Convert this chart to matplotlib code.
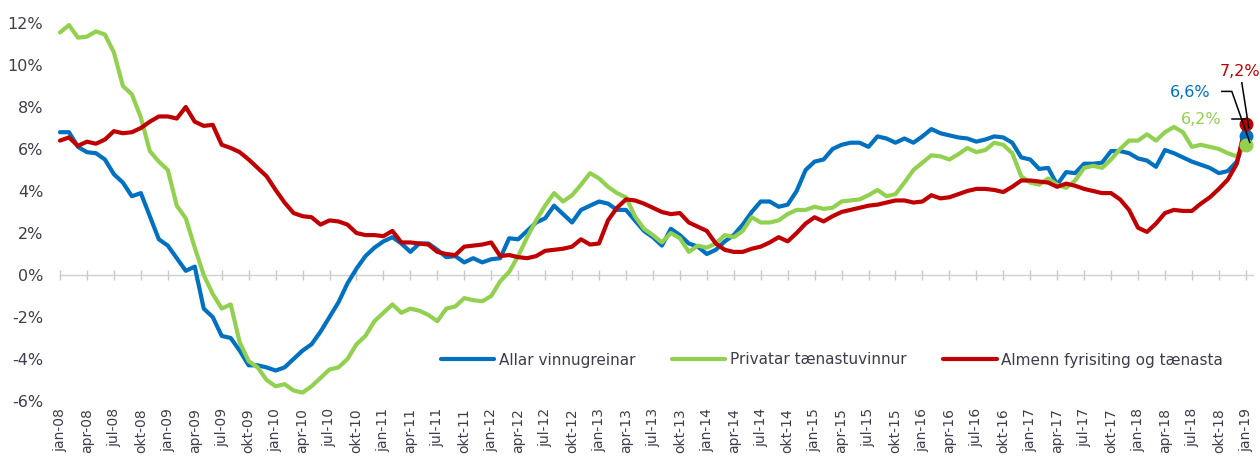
import matplotlib
matplotlib.use("Agg")
import matplotlib.pyplot as plt
from matplotlib.lines import Line2D
from matplotlib.transforms import IdentityTransform

plt.rcParams['font.family'] = ['DejaVu Sans']

tick_labels = [
    "jan-08", "apr-08", "jul-08", "okt-08", "jan-09", "apr-09", "jul-09", "okt-09",
    "jan-10", "apr-10", "jul-10", "okt-10", "jan-11", "apr-11", "jul-11", "okt-11",
    "jan-12", "apr-12", "jul-12", "okt-12", "jan-13", "apr-13", "jul-13", "okt-13",
    "jan-14", "apr-14", "jul-14", "okt-14", "jan-15", "apr-15", "jul-15", "okt-15",
    "jan-16", "apr-16", "jul-16", "okt-16", "jan-17", "apr-17", "jul-17", "okt-17",
    "jan-18", "apr-18", "jul-18", "okt-18", "jan-19",
]

series_names = ["Allar vinnugreinar", "Privatar tænastuvinnur", "Almenn fyrisiting og tænasta"]
end_labels = ["6,6%", "6,2%", "7,2%"]
colors = ["#0070C0", "#92D050", "#C00000"]

allar = [
    6.8, 6.8, 6.1, 5.85, 5.8, 5.5, 4.8, 4.4, 3.75, 3.9,
    2.8, 1.7, 1.4, 0.8, 0.2, 0.4, -1.6, -2.0, -2.9, -3.0,
    -3.6, -4.3, -4.3, -4.4, -4.55, -4.4, -4.0, -3.6, -3.3, -2.7,
    -2.0, -1.3, -0.4, 0.3, 0.9, 1.3, 1.6, 1.8, 1.5, 1.1,
    1.5, 1.5, 1.2, 0.85, 0.9, 0.6, 0.8, 0.6, 0.75, 0.8,
    1.75, 1.7, 2.1, 2.5, 2.7, 3.3, 2.9, 2.5, 3.1, 3.3,
    3.5, 3.4, 3.1, 3.1, 2.6, 2.1, 1.8, 1.4, 2.2, 1.9,
    1.5, 1.35, 1.0, 1.2, 1.6, 1.9, 2.4, 3.0, 3.5, 3.5,
    3.25, 3.35, 4.0, 5.0, 5.4, 5.5, 6.0, 6.2, 6.3, 6.3,
    6.1, 6.6, 6.5, 6.3, 6.5, 6.3, 6.6, 6.95, 6.75, 6.65,
    6.55, 6.5, 6.35, 6.45, 6.6, 6.55, 6.3, 5.6, 5.5, 5.05,
    5.1, 4.3, 4.9, 4.85, 5.3, 5.3, 5.35, 5.9, 5.9, 5.8,
    5.55, 5.45, 5.15, 5.95, 5.8, 5.6, 5.4, 5.25, 5.1, 4.85,
    4.95, 5.4, 6.6,
]

privatar = [
    11.55, 11.9, 11.3, 11.35, 11.6, 11.45, 10.6, 9.0, 8.6, 7.5,
    5.9, 5.4, 5.0, 3.3, 2.7, 1.3, 0.0, -0.9, -1.6, -1.4,
    -3.2, -4.1, -4.4, -5.0, -5.3, -5.2, -5.5, -5.6, -5.3, -4.9,
    -4.5, -4.4, -4.0, -3.3, -2.9, -2.2, -1.8, -1.4, -1.8, -1.6,
    -1.7, -1.9, -2.2, -1.6, -1.5, -1.1, -1.2, -1.25, -1.0, -0.3,
    0.15, 0.9, 1.8, 2.6, 3.3, 3.9, 3.5, 3.8, 4.3, 4.85,
    4.6, 4.2, 3.9, 3.7, 2.8, 2.2, 1.9, 1.55, 2.0, 1.75,
    1.1, 1.4, 1.3, 1.5, 1.9, 1.8, 2.1, 2.75, 2.5, 2.5,
    2.6, 2.9, 3.1, 3.1, 3.25, 3.15, 3.2, 3.5, 3.55, 3.6,
    3.8, 4.05, 3.75, 3.85, 4.4, 5.0, 5.35, 5.7, 5.65, 5.5,
    5.75, 6.05, 5.85, 5.95, 6.3, 6.2, 5.8, 4.7, 4.4, 4.3,
    4.6, 4.3, 4.15, 4.5, 5.1, 5.2, 5.1, 5.5, 6.0, 6.4,
    6.4, 6.7, 6.4, 6.8, 7.05, 6.8, 6.1, 6.2, 6.1, 6.0,
    5.8, 5.65, 6.2,
]

almenn = [
    6.4, 6.55, 6.15, 6.35, 6.25, 6.45, 6.85, 6.75, 6.8, 7.0,
    7.3, 7.55, 7.55, 7.45, 8.0, 7.3, 7.1, 7.15, 6.2, 6.05,
    5.85, 5.5, 5.1, 4.7, 4.05, 3.45, 2.95, 2.8, 2.75, 2.4,
    2.6, 2.55, 2.4, 2.0, 1.9, 1.9, 1.85, 2.1, 1.55, 1.55,
    1.5, 1.45, 1.1, 1.0, 0.95, 1.35, 1.4, 1.45, 1.55, 0.9,
    0.95, 0.85, 0.8, 0.9, 1.15, 1.2, 1.25, 1.35, 1.7, 1.45,
    1.5, 2.6, 3.2, 3.6, 3.55, 3.4, 3.2, 3.0, 2.9, 2.95,
    2.5, 2.3, 2.1, 1.5, 1.2, 1.1, 1.1, 1.25, 1.35, 1.55,
    1.8, 1.6, 2.0, 2.45, 2.75, 2.55, 2.8, 3.0, 3.1, 3.2,
    3.3, 3.35, 3.45, 3.55, 3.55, 3.45, 3.5, 3.8, 3.65, 3.7,
    3.85, 4.0, 4.1, 4.1, 4.05, 3.95, 4.2, 4.5, 4.5, 4.45,
    4.4, 4.2, 4.35, 4.25, 4.1, 4.0, 3.9, 3.9, 3.6, 3.1,
    2.25, 2.05, 2.45, 2.95, 3.1, 3.05, 3.05, 3.4, 3.7, 4.1,
    4.55, 5.3, 7.2,
]

y_ticks = [-6, -4, -2, 0, 2, 4, 6, 8, 10, 12]
y_tick_labels = ["-6%", "-4%", "-2%", "0%", "2%", "4%", "6%", "8%", "10%", "12%"]

TEXT = "#3d3d4d"
W, H = 1260, 468
fig = plt.figure(figsize=(W / 100, H / 100), dpi=100)
fig.patch.set_facecolor("white")
ax = fig.add_axes([60 / W, 67 / H, 1193 / W, 378 / H])

months = list(range(len(allar)))
all_series = [allar, privatar, almenn]
for vals, c, name in zip(all_series, colors, series_names):
    ax.plot(months, vals, color=c, lw=3.0, label=name, clip_on=False,
            solid_joinstyle="round", solid_capstyle="round", zorder=3)

ax.set_xlim(0, 132.8)
ax.set_ylim(-6, 12)

for s in ax.spines.values():
    s.set_visible(False)

tick_pos = list(range(0, len(allar), 3))
ax.set_xticks(tick_pos)
ax.set_xticklabels(tick_labels, rotation=90, fontsize=10, color=TEXT)
ax.tick_params(axis="x", length=0, pad=5)
ax.set_yticks(y_ticks)
ax.set_yticklabels(y_tick_labels, fontsize=11.5, color=TEXT)
ax.tick_params(axis="y", length=0, pad=12)

# zero axis line with tick marks
sec = ax.secondary_xaxis(6 / 18)
sec.set_xticks(tick_pos)
sec.tick_params(axis="x", direction="inout", length=7, width=1, color="#c8c8c8",
                labelbottom=False, labeltop=False)
for s in sec.spines.values():
    s.set_color("#d0d0d0")
    s.set_linewidth(1.0)

# end markers
for vals, c in zip(all_series, colors):
    ax.plot(months[-1], vals[-1], "o", ms=9, color=c, clip_on=False, zorder=6)

# end labels
label_offsets = [(-56, 44), (-45, 25), (-6, 52)]
for vals, c, txt, off in zip(all_series, colors, end_labels, label_offsets):
    ax.annotate(txt, xy=(months[-1], vals[-1]), xytext=off, textcoords="offset pixels",
                ha="center", va="center", fontsize=11.5, color=c, zorder=7)

# leader lines (pixel offsets from the data point)
leader_offsets = [
    [(-24, 45), (-14, 45), (4, -6)],
    [(-14, 26), (-1, 26)],
    [(-4, 41), (3, -4)],
]
for vals, offs in zip(all_series, leader_offsets):
    px, py = ax.transData.transform((months[-1], vals[-1]))
    xs = [px + o[0] for o in offs]
    ys = [py + o[1] for o in offs]
    fig.add_artist(Line2D(xs, ys, transform=IdentityTransform(), color="black", lw=1.1, zorder=5))

leg = ax.legend(loc="center", bbox_to_anchor=(832 / W, 1 - 360 / H), bbox_transform=fig.transFigure,
                ncol=3, frameon=False, fontsize=11, handlelength=3.5, handletextpad=0.3,
                columnspacing=2.4, labelcolor=TEXT)

fig.savefig("out.png", dpi=100, facecolor="white")
